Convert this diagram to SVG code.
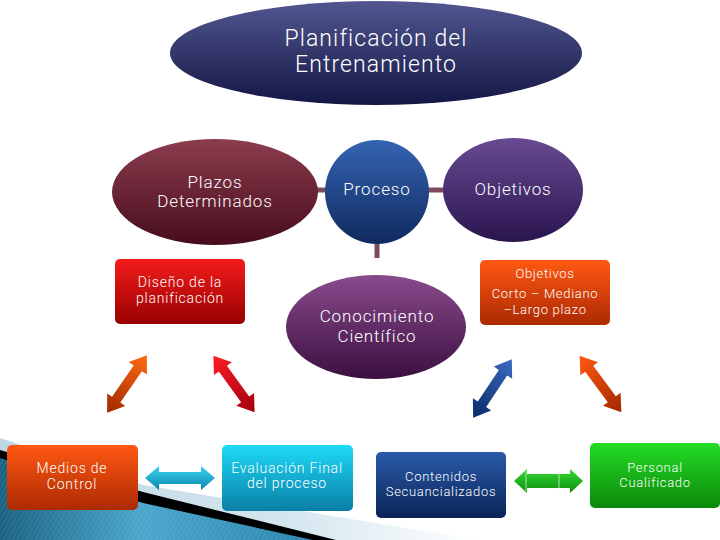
<svg xmlns="http://www.w3.org/2000/svg" width="720" height="540" viewBox="0 0 720 540">
<defs>
<style>
text{font-family:"Roboto","Liberation Sans","DejaVu Sans",sans-serif;font-weight:300;fill:#fff;text-anchor:middle}
.big{font-size:23px;letter-spacing:1.1px}
.mid{font-size:17px;letter-spacing:0.9px}
.sm{font-size:14px;letter-spacing:0.8px}
.xs{font-size:13px;letter-spacing:0.7px}
.conn{stroke:#7c4a5f;stroke-width:5;fill:none}
</style>
<linearGradient id="gTop" x1="0" y1="0" x2="0" y2="1"><stop offset="0" stop-color="#515690"/><stop offset="1" stop-color="#141744"/></linearGradient>
<linearGradient id="gPlazos" x1="0" y1="0" x2="0" y2="1"><stop offset="0" stop-color="#8c3c4e"/><stop offset="1" stop-color="#470d1c"/></linearGradient>
<linearGradient id="gProceso" x1="0" y1="0" x2="0" y2="1"><stop offset="0" stop-color="#3564b2"/><stop offset="1" stop-color="#0f2a5e"/></linearGradient>
<linearGradient id="gObj" x1="0" y1="0" x2="0" y2="1"><stop offset="0" stop-color="#684a92"/><stop offset="1" stop-color="#2a154f"/></linearGradient>
<linearGradient id="gCono" x1="0" y1="0" x2="0" y2="1"><stop offset="0" stop-color="#8a4a8c"/><stop offset="1" stop-color="#3a0f40"/></linearGradient>
<linearGradient id="gRed" x1="0" y1="0" x2="0" y2="1"><stop offset="0" stop-color="#f41c1c"/><stop offset="1" stop-color="#980000"/></linearGradient>
<linearGradient id="gOrange" x1="0" y1="0" x2="0" y2="1"><stop offset="0" stop-color="#ff5812"/><stop offset="1" stop-color="#ac2a02"/></linearGradient>
<linearGradient id="gCyan" x1="0" y1="0" x2="0" y2="1"><stop offset="0" stop-color="#1edaf8"/><stop offset="1" stop-color="#0a7ea6"/></linearGradient>
<linearGradient id="gBlue" x1="0" y1="0" x2="0" y2="1"><stop offset="0" stop-color="#2a5aaa"/><stop offset="1" stop-color="#0a2556"/></linearGradient>
<linearGradient id="gGreen" x1="0" y1="0" x2="0" y2="1"><stop offset="0" stop-color="#24dc24"/><stop offset="1" stop-color="#0a880a"/></linearGradient>
<linearGradient id="aOrange" x1="0" y1="0" x2="1" y2="0"><stop offset="0" stop-color="#a02800"/><stop offset="1" stop-color="#ff6a12"/></linearGradient>
<linearGradient id="aRed" x1="0" y1="0" x2="1" y2="0"><stop offset="0" stop-color="#ff1c24"/><stop offset="1" stop-color="#a00010"/></linearGradient>
<linearGradient id="aBlue" x1="0" y1="0" x2="1" y2="0"><stop offset="0" stop-color="#0a2a66"/><stop offset="1" stop-color="#3a6ac4"/></linearGradient>
<linearGradient id="aOrange2" x1="0" y1="0" x2="1" y2="0"><stop offset="0" stop-color="#ff5a12"/><stop offset="1" stop-color="#a42800"/></linearGradient>
<linearGradient id="aCyan" x1="0" y1="0" x2="0" y2="1"><stop offset="0" stop-color="#3cd4f2"/><stop offset="1" stop-color="#0a86ae"/></linearGradient>
<linearGradient id="aGreen" x1="0" y1="0" x2="0" y2="1"><stop offset="0" stop-color="#34d834"/><stop offset="1" stop-color="#0e8e0e"/></linearGradient>
<linearGradient id="gTeal" x1="0" y1="0" x2="1" y2="0"><stop offset="0" stop-color="#1a6282"/><stop offset="0.45" stop-color="#4aa6cc"/><stop offset="1" stop-color="#2a86ae"/></linearGradient>
<linearGradient id="gPale" x1="0" y1="0" x2="1" y2="0"><stop offset="0" stop-color="#bcd6e4"/><stop offset="0.6" stop-color="#d4e6ef"/><stop offset="1" stop-color="#ffffff"/></linearGradient>
<pattern id="stripes" width="4" height="4" patternUnits="userSpaceOnUse" patternTransform="rotate(30)"><line x1="0" y1="0" x2="0" y2="4" stroke="#ffffff" stroke-opacity="0.18" stroke-width="1"/></pattern>
</defs>
<rect width="720" height="540" fill="#ffffff"/>
<g id="background">
<path d="M0,438 L143,485 L480,540 L0,540 Z" fill="url(#gPale)"/>
<path d="M0,450 L143,492 L336,540 L0,540 Z" fill="#000000"/>
<path d="M0,458 L143,503 L313,540 L0,540 Z" fill="url(#gTeal)"/>
<path d="M0,458 L143,503 L313,540 L0,540 Z" fill="url(#stripes)"/>
</g>
<g id="connectors">
<line class="conn" x1="316" y1="190" x2="327" y2="190"/>
<line class="conn" x1="427" y1="190" x2="445" y2="190"/>
<line class="conn" x1="377" y1="240" x2="377" y2="258"/>
<path d="M-35,0 L-19,-11 L-19,-5 L19,-5 L19,-11 L35,0 L19,11 L19,5 L-19,5 L-19,11 Z" fill="url(#aOrange)" transform="translate(127,384) rotate(-55.4)"/>
<path d="M-35,0 L-19,-11 L-19,-5 L19,-5 L19,-11 L35,0 L19,11 L19,5 L-19,5 L-19,11 Z" fill="url(#aRed)" transform="translate(234,384) rotate(54)"/>
<path d="M-35,0 L-19,-11 L-19,-5 L19,-5 L19,-11 L35,0 L19,11 L19,5 L-19,5 L-19,11 Z" fill="url(#aBlue)" transform="translate(492.5,388.5) rotate(-56.5)"/>
<path d="M-35,0 L-19,-11 L-19,-5 L19,-5 L19,-11 L35,0 L19,11 L19,5 L-19,5 L-19,11 Z" fill="url(#aOrange2)" transform="translate(600.5,384) rotate(53.5)"/>
<path d="M145,478 L159,466 L159,472 L201,472 L201,466 L215,478 L201,490 L201,484 L159,484 L159,490 Z" fill="url(#aCyan)"/>
<path d="M514,481 L527,469 L527,474 L570,474 L570,469 L583,481 L570,493 L570,488 L527,488 L527,493 Z" fill="url(#aGreen)"/>
<line x1="526" y1="471" x2="526" y2="491" stroke="#c8f4c8" stroke-width="0.8"/>
<line x1="559" y1="473" x2="559" y2="489" stroke="#c8f4c8" stroke-width="0.8"/>
</g>
<g id="n-top">
<ellipse cx="376" cy="53" rx="206" ry="52" fill="url(#gTop)"/>
<text class="big" x="376" y="46">Planificación del</text>
<text class="big" x="376" y="72">Entrenamiento</text>
</g>
<g id="n-plazos">
<ellipse cx="215" cy="192" rx="103" ry="53" fill="url(#gPlazos)"/>
<text class="mid" x="215" y="188">Plazos</text>
<text class="mid" x="215" y="207">Determinados</text>
</g>
<g id="n-proceso">
<circle cx="377" cy="192" r="52" fill="url(#gProceso)"/>
<text class="mid" x="377" y="195">Proceso</text>
</g>
<g id="n-objetivos">
<ellipse cx="513" cy="190" rx="70" ry="52" fill="url(#gObj)"/>
<text class="mid" x="513" y="195">Objetivos</text>
</g>
<g id="n-conocimiento">
<ellipse cx="376" cy="327" rx="90" ry="52" fill="url(#gCono)"/>
<text class="mid" x="377" y="322">Conocimiento</text>
<text class="mid" x="377" y="342">Científico</text>
</g>
<g id="n-diseno">
<rect x="115" y="259" width="130" height="65" rx="5" fill="url(#gRed)"/>
<text class="sm" x="180" y="287">Diseño de la</text>
<text class="sm" x="180" y="303">planificación</text>
</g>
<g id="n-objplazo">
<rect x="480" y="260" width="130" height="65" rx="5" fill="url(#gOrange)"/>
<text class="xs" x="545" y="278">Objetivos</text>
<text class="xs" x="545" y="298">Corto – Mediano</text>
<text class="xs" x="545" y="314">–Largo plazo</text>
</g>
<g id="n-medios">
<rect x="7" y="445" width="131" height="65" rx="5" fill="url(#gOrange)"/>
<text class="sm" x="72" y="473">Medios de</text>
<text class="sm" x="72" y="489">Control</text>
</g>
<g id="n-evaluacion">
<rect x="222" y="445" width="131" height="66" rx="5" fill="url(#gCyan)"/>
<text class="sm" x="287" y="473">Evaluación Final</text>
<text class="sm" x="287" y="488">del proceso</text>
</g>
<g id="n-contenidos">
<rect x="376" y="452" width="130" height="66" rx="5" fill="url(#gBlue)"/>
<text class="xs" x="441" y="481">Contenidos</text>
<text class="xs" x="441" y="496">Secuancializados</text>
</g>
<g id="n-personal">
<rect x="590" y="443" width="130" height="65" rx="5" fill="url(#gGreen)"/>
<text class="xs" x="655" y="472">Personal</text>
<text class="xs" x="655" y="487">Cualificado</text>
</g>
</svg>
